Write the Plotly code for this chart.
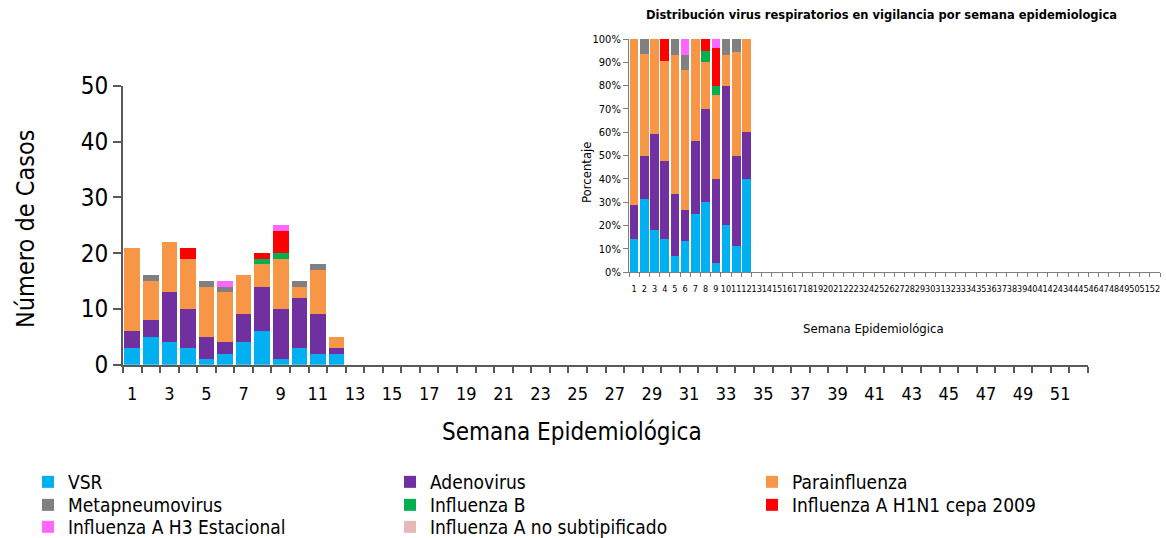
import plotly.graph_objects as go

# --- data: cases per epidemiological week (weeks 1-12 reported) ---
semanas = list(range(1, 13))
todas_semanas = list(range(1, 53))

vsr = [3, 5, 4, 3, 1, 2, 4, 6, 1, 3, 2, 2]
adenovirus = [3, 3, 9, 7, 4, 2, 5, 8, 9, 9, 7, 1]
parainfluenza = [15, 7, 9, 9, 9, 9, 7, 4, 9, 2, 8, 2]
metapneumovirus = [0, 1, 0, 0, 1, 1, 0, 0, 0, 1, 1, 0]
influenza_b = [0, 0, 0, 0, 0, 0, 0, 1, 1, 0, 0, 0]
influenza_h1n1 = [0, 0, 0, 2, 0, 0, 0, 1, 4, 0, 0, 0]
influenza_h3 = [0, 0, 0, 0, 0, 1, 0, 0, 1, 0, 0, 0]
influenza_no_subtip = [0, 0, 0, 0, 0, 0, 0, 0, 0, 0, 0, 0]

nombres = ["VSR", "Adenovirus", "Parainfluenza", "Metapneumovirus", "Influenza B",
           "Influenza A H1N1 cepa 2009", "Influenza A H3 Estacional",
           "Influenza A no subtipificado"]
colores = ["#00B0F0", "#7030A0", "#F79646", "#808080", "#00B050",
           "#FF0000", "#FF66FF", "#E6B9B8"]
series = [vsr, adenovirus, parainfluenza, metapneumovirus, influenza_b,
          influenza_h1n1, influenza_h3, influenza_no_subtip]

main_y_ticks = [0, 10, 20, 30, 40, 50]
main_x_labels = list(range(1, 53, 2))

# --- layout helpers (pixel -> paper) ---
W, H = 1166, 538
FONT = "DejaVu Sans Condensed, DejaVu Sans, sans-serif"
FONT_WIDE = "DejaVu Sans, sans-serif"
AXIS_COLOR = "#595959"


def fx(px):
    return px / W


def fy(py):
    return 1 - py / H


totales = [sum(s[i] for s in series) for i in range(len(semanas))]

fig = go.Figure()

legend_of = ["legend", "legend", "legend", "legend2", "legend2", "legend2",
             "legend3", "legend3"]

# main stacked bars (counts)
for nombre, color, valores, lg in zip(nombres, colores, series, legend_of):
    fig.add_trace(go.Bar(
        x=semanas, y=valores, name=nombre, marker=dict(color=color, line=dict(width=0)),
        xaxis="x", yaxis="y", legend=lg, showlegend=True,
    ))

# inset stacked bars (share of cases per week)
for nombre, color, valores in zip(nombres, colores, series):
    pct = [v / t if t else 0 for v, t in zip(valores, totales)]
    fig.add_trace(go.Bar(
        x=semanas, y=pct, name=nombre, marker=dict(color=color, line=dict(width=0)),
        xaxis="x2", yaxis="y2", showlegend=False,
    ))

boundaries = [w - 0.5 for w in todas_semanas] + [52.5]

legend_common = dict(
    orientation="h", xanchor="left", yanchor="middle", x=fx(28),
    font=dict(family=FONT, size=19, color="#000000"),
    bgcolor="rgba(0,0,0,0)", entrywidth=317, entrywidthmode="pixels",
    itemsizing="constant", traceorder="normal",
)

fig.update_layout(
    width=W, height=H,
    margin=dict(l=0, r=0, t=0, b=0, autoexpand=False),
    paper_bgcolor="white", plot_bgcolor="rgba(0,0,0,0)",
    barmode="stack",
    font=dict(family=FONT, color="#000000"),
    legend=dict(legend_common, y=fy(482)),
    legend2=dict(legend_common, y=fy(505)),
    legend3=dict(legend_common, y=fy(527)),
    xaxis=dict(
        domain=[fx(123), fx(1088)], range=[0.5, 52.5], automargin=False,
        tickmode="array", tickvals=main_x_labels, ticktext=[str(v) for v in main_x_labels],
        ticks="", tickangle=0, ticklabelstandoff=12,
        tickfont=dict(family=FONT, size=18, color="#000000"),
        showline=True, linecolor=AXIS_COLOR, linewidth=2,
        showgrid=False, zeroline=False, anchor="y",
        minor=dict(tickmode="array", tickvals=boundaries, ticks="outside",
                   ticklen=6, tickwidth=1.5, tickcolor=AXIS_COLOR, showgrid=False),
    ),
    yaxis=dict(
        domain=[fy(364.7), fy(85.7)], range=[0, 50], automargin=False,
        tickmode="array", tickvals=main_y_ticks,
        ticks="outside", ticklen=8, tickwidth=1.5, tickcolor=AXIS_COLOR,
        tickfont=dict(family=FONT, size=24, color="#000000"),
        showline=True, linecolor=AXIS_COLOR, linewidth=2,
        showgrid=False, zeroline=False, anchor="x",
    ),
    xaxis2=dict(
        domain=[fx(629), fx(1160)], range=[0.5, 52.5], automargin=False,
        tickmode="array", tickvals=todas_semanas, ticktext=[str(v) for v in todas_semanas],
        ticks="", tickangle=0, ticklabelstandoff=8,
        tickfont=dict(family=FONT, size=9, color="#000000"),
        showline=True, linecolor="#7f7f7f", linewidth=1,
        showgrid=False, zeroline=False, anchor="y2",
        minor=dict(tickmode="array", tickvals=boundaries, ticks="outside",
                   ticklen=4, tickwidth=1, tickcolor="#7f7f7f", showgrid=False),
    ),
    yaxis2=dict(
        domain=[fy(272), fy(39)], range=[0, 1], automargin=False,
        tickmode="linear", tick0=0, dtick=0.1, tickformat=".0%",
        ticks="outside", ticklen=5, tickwidth=1, tickcolor="#7f7f7f",
        tickfont=dict(family=FONT, size=11, color="#000000"),
        showline=True, linecolor="#7f7f7f", linewidth=1,
        showgrid=False, zeroline=False, anchor="x2",
    ),
    bargap=0.16,
    annotations=[
        dict(text="Número de Casos", x=fx(25), y=fy(229), xref="paper", yref="paper",
             showarrow=False, textangle=-90, xanchor="center", yanchor="middle",
             font=dict(family=FONT, size=25, color="#000000")),
        dict(text="Semana Epidemiológica", x=fx(572), y=fy(432), xref="paper", yref="paper",
             showarrow=False, xanchor="center", yanchor="middle",
             font=dict(family=FONT, size=24, color="#000000")),
        dict(text="<b>Distribución virus respiratorios en vigilancia por semana epidemiologica</b>",
             x=fx(881), y=fy(15), xref="paper", yref="paper",
             showarrow=False, xanchor="center", yanchor="middle",
             font=dict(family=FONT_WIDE, size=11.5, color="#000000")),
        dict(text="Porcentaje", x=fx(587), y=fy(172), xref="paper", yref="paper",
             showarrow=False, textangle=-90, xanchor="center", yanchor="middle",
             font=dict(family=FONT, size=13, color="#000000")),
        dict(text="Semana Epidemiológica", x=fx(873), y=fy(328), xref="paper", yref="paper",
             showarrow=False, xanchor="center", yanchor="middle",
             font=dict(family=FONT, size=13, color="#000000")),
    ],
)

fig.write_html("out.html")
